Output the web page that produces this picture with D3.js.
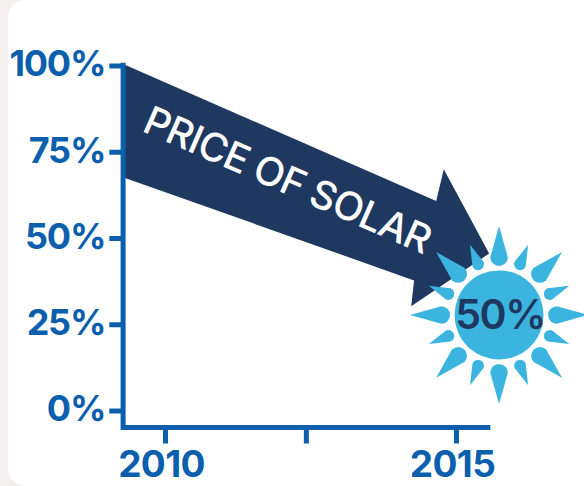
<!DOCTYPE html>
<html>
<head>
<meta charset="utf-8">
<script src="https://cdn.jsdelivr.net/npm/d3@7"></script>
<style>
  html, body { margin: 0; padding: 0; background: #fff; }
  svg { display: block; }
  .tick text { font-family: Inter, sans-serif; font-weight: 700; fill: #0b5fad; }
</style>
</head>
<body>
<svg id="chart" width="584" height="486"></svg>
<script>
const pctTicks = [0, 25, 50, 75, 100];
const yearTicks = [2010, 2012.42, 2015];
const yearLabels = [2010, 2015];

const arrowYears = [2009.3, 2014.66, 2014.79, 2015.57, 2014.23, 2014.28, 2009.3];
const arrowPct = [100.3, 60.7, 69.9, 45.5, 30.2, 37.7, 67.5];

const arrowLabel = "PRICE OF SOLAR";
const sunLabel = "50%";

// sun rays: angle in degrees, tip radius, round end radius
const rayAngles = [0, 22.5, 45, 67.5, 90, 112.5, 135, 157.5, 180, 202.5, 225, 247.5, 270, 292.5, 315, 337.5];
const rayTips = [89, 76, 89, 76, 89, 76, 89, 76, 89, 76, 89, 76, 89, 76, 89, 76];
const rayEnds = [8.8, 6, 8.8, 6, 8.8, 6, 8.8, 6, 8.8, 6, 8.8, 6, 8.8, 6, 8.8, 6];

const axisColor = "#0b5fad";
const navy = "#1e3860";
const sky = "#3bb5e0";

const svg = d3.select("#chart");

// grey page edge with the rounded white panel on top
svg.append("rect").attr("width", 584).attr("height", 486).attr("fill", "#f4f0ef");
svg.append("rect")
  .attr("x", 8).attr("y", 0)
  .attr("width", 600).attr("height", 486)
  .attr("rx", 18)
  .attr("fill", "#fff");

const x = d3.scaleLinear().domain([2010, 2015]).range([165, 456]);
const y = d3.scaleLinear().domain([0, 100]).range([410.5, 65.5]);

// arrow first, the axis line sits on its left edge
const arrowPoints = arrowYears.map((yr, i) => [x(yr), y(arrowPct[i])]);
svg.append("path")
  .attr("d", d3.line()(arrowPoints) + "Z")
  .attr("fill", navy);

// label runs along the arrow shaft
const slope = Math.atan2(arrowPoints[1][1] - arrowPoints[0][1], arrowPoints[1][0] - arrowPoints[0][0]) * 180 / Math.PI;
svg.append("text")
  .attr("transform", `translate(${x(2012.01)},${y(63.2)}) rotate(${slope})`)
  .attr("text-anchor", "middle")
  .attr("font-family", "Inter, sans-serif")
  .attr("font-weight", 500)
  .attr("font-size", 39.5)
  .attr("letter-spacing", -0.9)
  .attr("fill", "#fff")
  .text(arrowLabel);

const yAxis = d3.axisLeft(y)
  .tickValues(pctTicks)
  .tickFormat(d => d + "%")
  .tickSize(14)
  .tickPadding(4);

const gy = svg.append("g").attr("transform", "translate(123.3,0)").call(yAxis);
gy.select(".domain").remove();
gy.selectAll("line").attr("stroke", axisColor).attr("stroke-width", 5);
gy.selectAll("text").attr("font-size", 36).attr("letter-spacing", -1.2).attr("dy", "0.29em");

const xAxis = d3.axisBottom(x)
  .tickValues(yearTicks)
  .tickFormat(d => yearLabels.includes(d) ? d : "")
  .tickSize(16)
  .tickPadding(7);

const gx = svg.append("g").attr("transform", "translate(0,427.5)").call(xAxis);
gx.select(".domain").remove();
gx.selectAll("line").attr("stroke", axisColor).attr("stroke-width", 5);
gx.selectAll("text").attr("font-size", 37).attr("letter-spacing", -0.6).attr("dx", -4);

// axis lines
svg.append("path")
  .attr("d", d3.line()([[x(2009.28), y(100.8)], [x(2009.28), 427.5], [x(2015.59), 427.5]]))
  .attr("fill", "none")
  .attr("stroke", axisColor)
  .attr("stroke-width", 5);

// sun
const sun = svg.append("g").attr("transform", `translate(${x(2015.74)},${y(27.7)})`);
const inner = 49;

sun.selectAll("path.ray")
  .data(rayAngles)
  .join("path")
  .attr("class", "ray")
  .attr("transform", d => `rotate(${d})`)
  .attr("fill", sky)
  .attr("d", (d, i) => {
    const r = rayEnds[i];
    const c = inner + r;
    return `M${rayTips[i]},0 L${c},${-r} A${r},${r} 0 1 0 ${c},${r} Z`;
  });

sun.append("circle").attr("r", 44.5).attr("fill", sky);
sun.append("text")
  .attr("text-anchor", "middle")
  .attr("dx", 1)
  .attr("dy", "0.35em")
  .attr("font-family", "Inter, sans-serif")
  .attr("font-weight", 600)
  .attr("font-size", 41)
  .attr("letter-spacing", -1.5)
  .attr("fill", navy)
  .text(sunLabel);
</script>
</body>
</html>
